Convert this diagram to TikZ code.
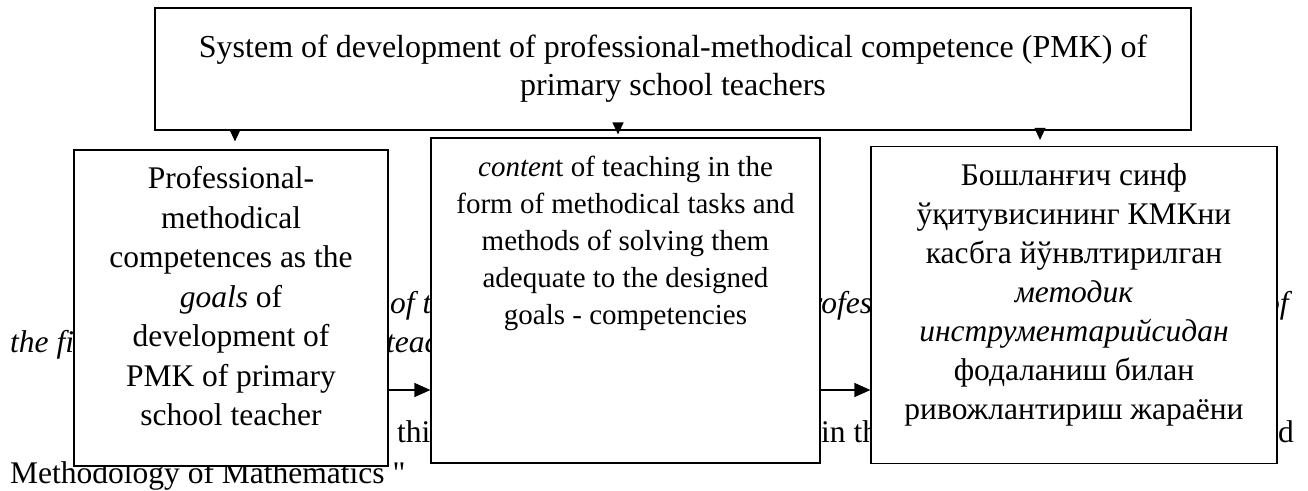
\documentclass[tikz,border=0pt]{standalone}
\usepackage{fontspec}
\setmainfont{Liberation Serif}
\usetikzlibrary{positioning,arrows.meta}

\begin{document}
\begin{tikzpicture}[x=1pt,y=-1pt,
  box/.style={draw,fill=white,line width=1.2pt,inner sep=0pt,align=center},
  inside/.style={anchor=north,align=center,inner sep=0pt},
  pagetext/.style={anchor=base west,inner sep=0pt,font=\fontsize{31.5}{38}\selectfont},
  down/.style={line width=1.2pt,-{Triangle[width=11pt,length=12pt]}},
  across/.style={line width=1.3pt,-{Triangle[width=14pt,length=16pt]}}
]
\useasboundingbox (0,0) rectangle (1308,490);

% the page text behind the scheme
\node[pagetext] (p1) at (390,313) {\itshape of t};
\node[pagetext] (p2) at (810,313) {\itshape rofes};
\node[pagetext] (p3) at (1264,313) {\itshape of};
\node[pagetext] (p4) at (10,352) {\itshape the fi};
\node[pagetext] (p5) at (386,352) {\itshape teac};
\node[pagetext] (p6) at (397,442) {thi};
\node[pagetext] (p7) at (821,442) {in th};
\node[pagetext] (p8) at (1278,442) {d};
\node[pagetext] (p9) at (10,483) {Methodology of Mathematics \textquotedbl};

% the system
\node[box,minimum width=1036pt,minimum height=122pt,
  font=\fontsize{32}{38}\selectfont] (sys) at (673,69)
  {System of development of professional-methodical competence (PMK) of\\
   primary school teachers};

% its three parts
\node[box,minimum width=314pt,minimum height=316pt,
  label={[inside,yshift=-17pt,font=\fontsize{31.5}{39.5}\selectfont]north:{Professional-\\
   methodical\\ competences as the\\ \textit{goals} of\\
   development of\\ PMK of primary\\ school teacher}}] (goals) at (231,308) {};
\node[box,minimum width=389pt,minimum height=325pt,
  label={[inside,yshift=-18pt,font=\fontsize{29}{37}\selectfont]north:{\textit{conten}t
   of teaching in the\\ form of methodical tasks and\\
   methods of solving them\\ adequate to the designed\\
   goals - competencies}}] (content) at (625.5,300.5) {};
\node[box,minimum width=406pt,minimum height=317pt,
  label={[inside,yshift=-18pt,font=\fontsize{31.5}{39}\selectfont]north:{Бошланғич синф\\
   ўқитувисининг КМКни\\ касбга йўнвлтирилган\\
   \textit{методик}\\ \textit{инструментарийсидан}\\ фодаланиш билан\\
   ривожлантириш жараёни}}] (tools) at (1074,305) {};

% the arrows
\draw[down,shorten >=8pt] (sys.south -| 235,0) -- (goals.north -| 235,0);
\draw[down,shorten >=3pt] (sys.south -| 618,0) -- (content.north -| 618,0);
\draw[down,shorten >=6pt] (sys.south -| 1040,0) -- (tools.north -| 1040,0);
\draw[across] (goals.east |- 0,390) -- (content.west |- 0,390);
\draw[across] (content.east |- 0,390) -- (tools.west |- 0,390);
\end{tikzpicture}
\end{document}
